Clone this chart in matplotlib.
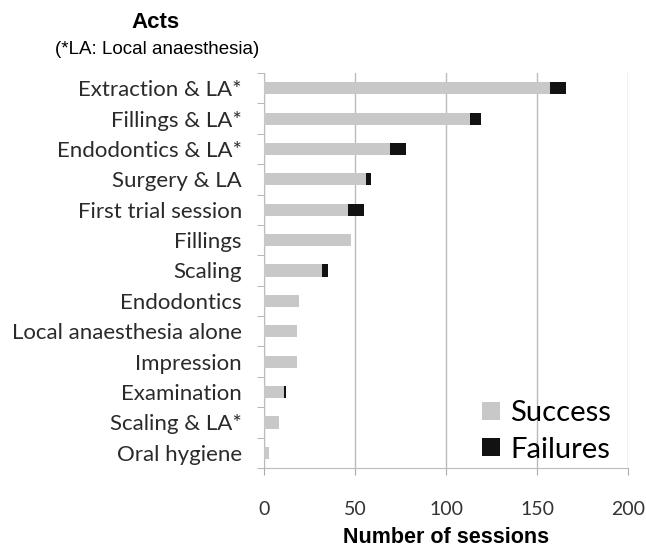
import matplotlib
matplotlib.use("Agg")
import matplotlib.pyplot as plt
import numpy as np
from matplotlib.patches import Patch

categories = ["Extraction & LA*", "Fillings & LA*", "Endodontics & LA*", "Surgery & LA",
              "First trial session", "Fillings", "Scaling", "Endodontics",
              "Local anaesthesia alone", "Impression", "Examination", "Scaling & LA*",
              "Oral hygiene"]
success = [157, 113, 69, 56, 46, 48, 32, 19, 18, 18, 11, 8, 3]
failures = [9, 6, 9, 3, 9, 0, 3, 0, 0, 0, 1, 0, 0]
xticks = [0, 50, 100, 150, 200]

fig = plt.figure(figsize=(6.46, 5.47), dpi=100)
ax = fig.add_axes([264/646, 1-468/547, (628-264)/646, (468-73)/547])

y = np.arange(len(categories))
ax.barh(y, success, height=0.4, color="#c8c8c8", label="Success", zorder=3)
ax.barh(y, failures, left=success, height=0.4, color="#121212", label="Failures", zorder=3)

ax.set_ylim(len(categories) - 0.5, -0.5)
ax.set_xlim(0, 200)
ax.set_xticks(xticks)
ax.set_xticklabels([str(t) for t in xticks], fontfamily="Lato", fontsize=14, color="#333333")
ax.set_yticks(y)
ax.set_yticklabels(categories, fontfamily="Lato", fontsize=16, color="#2a2a2a")
ax.set_yticks(np.arange(len(categories) + 1) - 0.5, minor=True)
ax.tick_params(axis="y", which="major", length=0, pad=16)
ax.tick_params(axis="y", which="minor", length=5, color="#aaaaaa")
ax.tick_params(axis="x", which="major", length=5, color="#aaaaaa", pad=19)

ax.grid(axis="x", color="#bbbbbb", linewidth=1, zorder=0)
for s in ["top", "right"]:
    ax.spines[s].set_visible(False)
for s in ["left", "bottom"]:
    ax.spines[s].set_color("#bbbbbb")

ax.set_xlabel("Number of sessions", fontfamily="Liberation Sans", fontweight="bold",
              fontsize=15.5, labelpad=6)

handles = [Patch(facecolor="#c8c8c8", label="Success"),
           Patch(facecolor="#121212", label="Failures")]
ax.legend(handles=handles, loc="lower right", frameon=False,
          prop={"family": "Lato", "size": 21}, handlelength=0.6, handleheight=0.6,
          handletextpad=0.35, labelspacing=0.35, borderpad=0,
          bbox_to_anchor=(0.993, -0.023))

fig.text(156/646, 1-23/547, "Acts", ha="center", va="center",
         fontfamily="Liberation Sans", fontweight="bold", fontsize=16)
fig.text(157/646, 1-50/547, "(*LA: Local anaesthesia)", ha="center", va="center",
         fontfamily="Liberation Sans", fontsize=13.5)

fig.savefig("out.png", dpi=100)
